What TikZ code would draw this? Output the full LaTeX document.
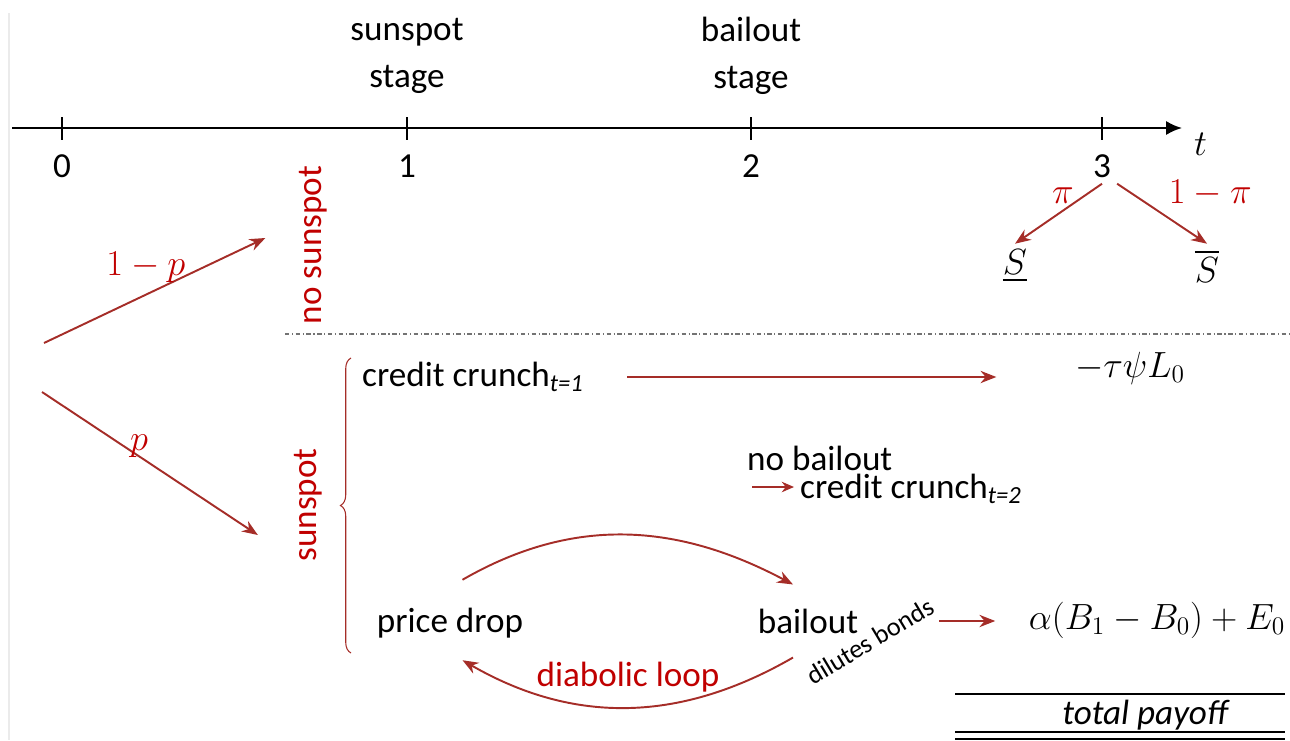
\documentclass[tikz,border=0pt]{standalone}
\usepackage{amsmath}
\usepackage{fontspec}
\setmainfont{Carlito}
\usetikzlibrary{arrows.meta,decorations.pathreplacing}

\definecolor{arrred}{RGB}{165,45,40}
\definecolor{txtred}{RGB}{192,0,0}

\tikzset{
    redarrow/.style={draw=arrred, line width=1.1pt, -{Stealth[length=9pt,width=7pt]}},
    redtxt/.style={text=txtred},
    big/.style={font=\fontsize{20}{24}\selectfont},
    mth/.style={font=\fontsize{21}{24}\selectfont},
}

\begin{document}
\begin{tikzpicture}[x=0.02cm, y=-0.02cm, big]
    \useasboundingbox (0,0) rectangle (1290,740);
    \draw[black!8, line width=1pt] (9,13) -- (9,740);

    % time axis
    \coordinate (axL) at (12,128);
    \coordinate (axR) at (1182,128);
    \draw[line width=1.3pt, -{Latex[length=9pt,width=8pt]}] (axL) -- (axR);
    \node[mth, anchor=north west] (tlab) at (1188,127) {$t$};
    \foreach \x/\lab in {62/0, 407/1, 751/2, 1102/3} {
        \draw[line width=1.3pt] (\x,117) -- (\x,140);
        \node (t\lab) at (\x,166) {\lab};
    }

    % stages
    \node[align=center] (sstage) at (407,56) {sunspot\\[3pt]stage};
    \node[align=center] (bstage) at (751,56) {bailout\\[3pt]stage};

    % fundamental shock at t=3
    \node[mth] (slow) at (1015,266) {$\underline{S}$};
    \node[mth] (shigh) at (1207,266) {$\overline{S}$};
    \draw[redarrow] (t3.south) -- (slow.north)
        node[pos=0.45, above, redtxt, mth] {$\pi$};
    \draw[redarrow] (t3.south east) -- (shigh.north)
        node[pos=0.5, above right, redtxt, mth, yshift=0pt] {$1-\pi$};

    % separator
    \coordinate (sepL) at (285,334);
    \coordinate (sepR) at (1290,334);
    \draw[black!55, line width=0.6pt, dash pattern=on 2.5pt off 1.5pt on 0.6pt off 1.5pt] (sepL) -- (sepR);

    % sunspot branches
    \node[redtxt, rotate=90] (nosun) at (313,245) {no sunspot};
    \node[redtxt, rotate=90] (sun) at (308,505) {sunspot};
    \coordinate (up0) at (44,343);
    \coordinate (dn0) at (42,392);
    \draw[redarrow] (up0) -- ([xshift=-0.55cm, yshift=0.14cm]nosun.north)
        node[pos=0.46, above, redtxt, mth, yshift=3pt] {$1-p$};
    \draw[redarrow] (dn0) -- ([xshift=-0.6cm, yshift=-0.6cm]sun.north)
        node[pos=0.45, above, redtxt, mth, inner sep=1pt, yshift=-2pt] {$p$};

    % brace
    \coordinate (brB) at (351,653);
    \coordinate (brT) at (351,358);
    \draw[arrred, line width=0.6pt, decorate, decoration={brace, amplitude=6pt}] (brB) -- (brT);

    % credit crunch at t=1
    \node[anchor=west] (cc1) at (356,377) {credit crunch$_{\textit{t=1}}$};
    \node[mth] (tau) at (1130,368) {$-\tau\psi L_0$};
    \draw[redarrow, shorten <=0.75cm, shorten >=1.45cm] (cc1.east) -- (tau.west |- cc1.east);

    % no bailout
    \node[anchor=west] (nobo) at (741,458) {no bailout};
    \node[anchor=west] (cc2) at (794,489) {credit crunch$_{\textit{t=2}}$};
    \coordinate (nbo0) at (752,487);
    \draw[redarrow, line width=0.9pt, -{Stealth[length=7pt,width=6pt]}] (nbo0) -- (cc2.west |- nbo0);

    % diabolic loop
    \node (pd) at (450,623) {price drop};
    \node (bo) at (808,621) {bailout};
    \draw[redarrow] ([xshift=0.25cm, yshift=0.44cm]pd.north) to[out=30, in=152] ([xshift=-0.3cm, yshift=0.36cm]bo.north);
    \draw[redarrow] ([xshift=-0.3cm, yshift=-0.36cm]bo.south) to[out=-150, in=-30] ([xshift=0.25cm, yshift=-0.32cm]pd.south);
    \node[redtxt] (loop) at (628,677) {diabolic loop};
    \node[rotate=31, font=\fontsize{15}{17}\selectfont] (dil) at (870,641) {dilutes bonds};

    % payoff
    \node[mth] (pay) at (1157,620) {$\alpha(B_1-B_0)+E_0$};
    \draw[redarrow, shorten <=1.5cm, shorten >=0.55cm] (bo.east) -- (pay.west |- bo.east);

    % total
    \node[font=\fontsize{20}{24}\selectfont\itshape] (tot) at (1145,715) {total payoff};
    \draw[line width=0.9pt] (955,694) -- (1285,694);
    \draw[line width=0.9pt] (955,732) -- (1285,732);
    \draw[line width=0.6pt] (955,739) -- (1285,739);
\end{tikzpicture}
\end{document}
